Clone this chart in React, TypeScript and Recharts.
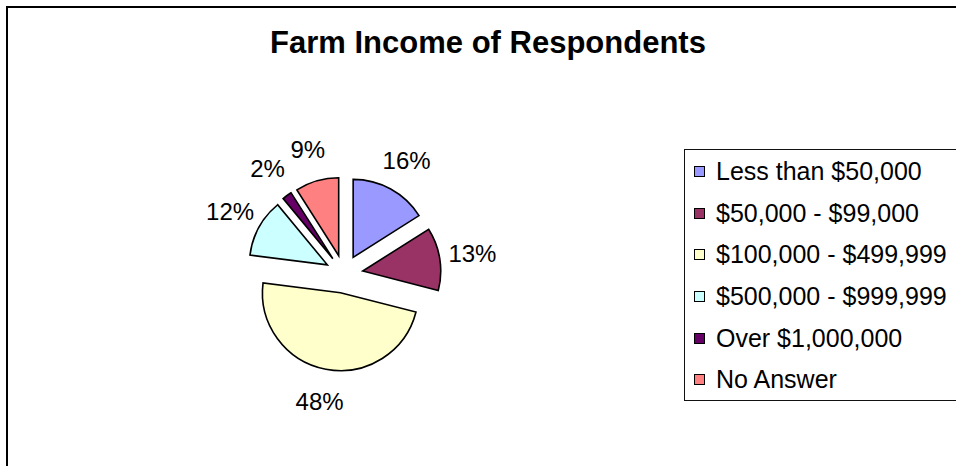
import { PieChart, Pie, Cell, Legend, Sector } from "recharts";

const categories = [
  "Less than $50,000",
  "$50,000 - $99,000",
  "$100,000 - $499,999",
  "$500,000 - $999,999",
  "Over $1,000,000",
  "No Answer",
];
const shares = [16, 13, 48, 12, 2, 9];
const colors = ["#9999FF", "#993366", "#FFFFCC", "#CCFFFF", "#660066", "#FF8080"];

const data = categories.map((name, i) => ({ name, value: shares[i] }));

const FONT = '"Liberation Sans", Arial, sans-serif';
const RAD = Math.PI / 180;
const EXPLODE = 19;
const LABEL_GAP = 33;

// the real sectors are hidden; each slice is drawn here, pulled out along its mid angle
const ExplodedSlice = (props: any) => {
  const { cx, cy, midAngle, startAngle, endAngle, outerRadius, percent, index } = props;
  const dx = Math.cos(-midAngle * RAD);
  const dy = Math.sin(-midAngle * RAD);
  const sx = cx + EXPLODE * dx;
  const sy = cy + EXPLODE * dy;
  const lr = outerRadius + LABEL_GAP;
  return (
    <g>
      <Sector
        cx={sx}
        cy={sy}
        innerRadius={0}
        outerRadius={outerRadius}
        startAngle={startAngle}
        endAngle={endAngle}
        fill={colors[index]}
        stroke="#000"
        strokeWidth={1.6}
      />
      <text
        x={sx + lr * dx}
        y={sy + lr * dy}
        textAnchor="middle"
        dominantBaseline="central"
        fontFamily={FONT}
        fontSize={24}
        fill="#000"
      >
        {`${Math.round(percent * 100)}%`}
      </text>
    </g>
  );
};

// keep the legend in data order (recharts sorts it by name otherwise)
const LegendBox = ({ payload }: any) => {
  const items = [...(payload || [])].sort(
    (a: any, b: any) => categories.indexOf(a.value) - categories.indexOf(b.value)
  );
  return (
    <div
      style={{
        boxSizing: "border-box",
        width: 290,
        height: 252,
        border: "1px solid #111",
        padding: "1px 0 0 9px",
        fontFamily: FONT,
        fontSize: 25,
        color: "#000",
        background: "#fff",
      }}
    >
      {items.map((entry: any) => (
        <div
          key={entry.value}
          style={{ height: 41.6, display: "flex", alignItems: "center", whiteSpace: "nowrap" }}
        >
          <span
            style={{
              width: 9,
              height: 9,
              border: "1px solid #000",
              background: colors[categories.indexOf(entry.value)],
              marginRight: 11,
              flexShrink: 0,
            }}
          />
          <span>{entry.value}</span>
        </div>
      ))}
    </div>
  );
};

export default function App() {
  return (
    <div
      style={{
        position: "fixed",
        left: 0,
        top: 0,
        width: 956,
        height: 466,
        overflow: "hidden",
        background: "#fff",
        fontFamily: FONT,
      }}
    >
      <div
        style={{
          position: "absolute",
          left: 6,
          top: 6,
          width: 1200,
          height: 1200,
          border: "2px solid #000",
        }}
      />
      <div
        style={{
          position: "absolute",
          left: 0,
          top: 27,
          width: 976,
          textAlign: "center",
          fontSize: 31,
          lineHeight: "31px",
          fontWeight: "bold",
          color: "#000",
        }}
      >
        Farm Income of Respondents
      </div>
      <div style={{ position: "absolute", left: 0, top: 0 }}>
        <PieChart width={956} height={466} margin={{ top: 0, right: 0, bottom: 0, left: 0 }}>
          <Pie
            data={data}
            dataKey="value"
            nameKey="name"
            cx={344}
            cy={274}
            outerRadius={78}
            startAngle={90}
            endAngle={-270}
            stroke="none"
            fillOpacity={0}
            labelLine={false}
            label={ExplodedSlice}
            isAnimationActive={false}
          >
            {data.map((d, i) => (
              <Cell key={d.name} fill={colors[i]} />
            ))}
          </Pie>
          <Legend
            layout="vertical"
            align="right"
            verticalAlign="top"
            content={LegendBox}
            wrapperStyle={{ left: 684, top: 149, width: 290, height: 252 }}
          />
        </PieChart>
      </div>
    </div>
  );
}
